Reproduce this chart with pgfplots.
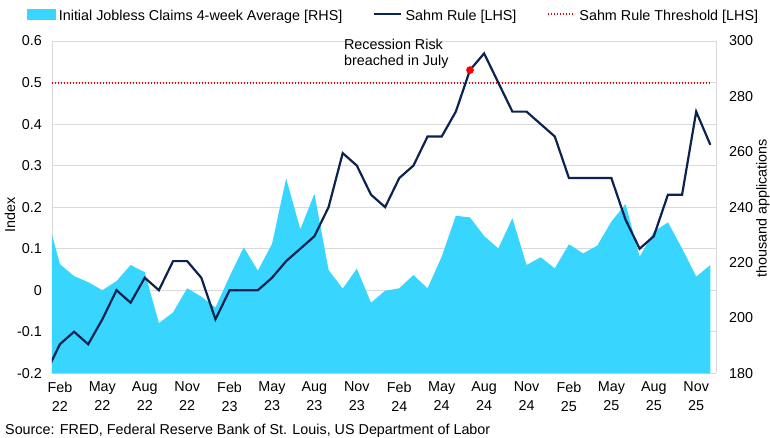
\documentclass[border=0pt]{standalone}
\usepackage{pgfplots}
\pgfplotsset{compat=1.18}
\usepackage{pgfplotstable}
\usepackage{fontspec}
\setmainfont{Liberation Sans}

\definecolor{claimsblue}{RGB}{56,214,255}
\definecolor{sahmnavy}{RGB}{12,35,82}
\definecolor{gridgray}{RGB}{217,217,217}

\newcommand{\fsz}{\fontsize{14.4}{17}\selectfont}

% month index: 0 = Feb 2022, 3 = May 2022, ..., 45 = Nov 2025 (-1 = Jan 2022)
% sahm: Sahm rule (index points), claims: initial claims 4-week average (thousands)
\pgfplotstableread{
idx sahm claims
-1 -0.20 238.3
0 -0.13 219.4
1 -0.10 215.1
2 -0.13 212.9
3 -0.07 210.0
4 0.00 213.3
5 -0.03 219.1
6 0.03 216.5
7 0.00 198.1
8 0.07 202.0
9 0.07 210.7
10 0.03 207.7
11 -0.07 203.8
12 0.00 215.0
13 0.00 225.5
14 0.00 217.1
15 0.03 226.7
16 0.07 250.4
17 0.10 232.0
18 0.13 244.8
19 0.20 217.3
20 0.33 210.6
21 0.30 217.8
22 0.23 205.5
23 0.20 209.8
24 0.27 210.7
25 0.30 215.5
26 0.37 210.7
27 0.37 222.1
28 0.43 236.9
29 0.53 236.3
30 0.57 229.6
31 0.50 225.1
32 0.43 236.0
33 0.43 219.1
34 0.40 221.9
35 0.37 217.9
36 0.27 226.6
37 0.27 223.3
38 0.27 226.1
39 0.27 234.8
40 0.17 241.1
41 0.10 222.1
42 0.13 231.1
43 0.23 234.5
44 0.23 225.1
45 0.43 214.9
46 0.35 219.1
}\monthly

\pgfplotsset{
  frame/.style={
    at={(0,0)}, anchor=south west,
    scale only axis, width=664bp, height=332.3bp,
    xmin=-0.56, xmax=46.40,
  },
}

\begin{document}
\begin{tikzpicture}
\path[use as bounding box] (-52bp,-64.7bp) rectangle (718bp,373.3bp);

% left scale: grid, index ticks and month labels
\begin{axis}[
  frame,
  ymin=-0.2, ymax=0.6,
  axis x line*=bottom, axis y line*=left,
  axis line style={-},
  x axis line style={draw=none},
  y axis line style={draw=gridgray, line width=0.8bp},
  major tick length=0pt, tick style={draw=none},
  ytick={-0.2,-0.1,0,0.1,0.2,0.3,0.4,0.5,0.6},
  yticklabels={-0.2,-0.1,0,0.1,0.2,0.3,0.4,0.5,0.6},
  ymajorgrids, grid style={draw=gridgray, line width=0.8bp},
  xtick={0,3,...,45},
  xticklabels={{Feb\\22},{May\\22},{Aug\\22},{Nov\\22},
               {Feb\\23},{May\\23},{Aug\\23},{Nov\\23},
               {Feb\\24},{May\\24},{Aug\\24},{Nov\\24},
               {Feb\\25},{May\\25},{Aug\\25},{Nov\\25}},
  xticklabel style={align=center, inner sep=0pt, yshift=-8.5bp,
                    font=\fontsize{14.4}{19}\selectfont},
  yticklabel style={inner sep=0pt, xshift=-10bp, font=\fsz},
  ylabel={Index},
  ylabel style={at={(axis description cs:-0.0633,0.476)}, anchor=center,
                inner sep=0pt, font=\fsz},
]
\end{axis}

% right scale: initial jobless claims area
\begin{axis}[
  frame,
  ymin=180, ymax=300,
  axis x line=none, axis y line*=right,
  axis line style={-},
  y axis line style={draw=gridgray, line width=0.8bp},
  major tick length=0pt, ytick style={draw=none},
  ytick={180,200,220,240,260,280,300},
  yticklabels={180,200,220,240,260,280,300},
  yticklabel style={inner sep=0pt, xshift=13bp, font=\fsz},
  ylabel={thousand applications},
  ylabel style={at={(axis description cs:1.0708,0.496)}, anchor=center,
                inner sep=0pt, font=\fsz},
]
\addplot[draw=none, fill=claimsblue] table[x=idx, y=claims] {\monthly} \closedcycle;
\end{axis}

% left scale again: Sahm rule, threshold and legend
\begin{axis}[
  frame,
  ymin=-0.2, ymax=0.6,
  hide axis, clip mode=individual,
  legend columns=3,
  legend cell align=left,
  legend style={at={(-0.0377,1.0773)}, anchor=west, draw=none, fill=none,
    inner sep=0pt, outer sep=0pt, font=\fsz,
    nodes={inner sep=0pt},
    /tikz/every odd column/.append style={column sep=3.5bp},
    /tikz/every even column/.append style={column sep=30.5bp}},
]
\addlegendimage{legend image code/.code={\fill[claimsblue] (0bp,-3.7bp) rectangle (28bp,6.3bp);}}
\addlegendentry{Initial Jobless Claims 4-week Average [RHS]}
\addlegendimage{legend image code/.code={\draw[sahmnavy, line width=2.2bp] (0bp,1.3bp) -- (27bp,1.3bp);}}
\addlegendentry{Sahm Rule [LHS]}
\addlegendimage{legend image code/.code={\draw[red, line width=2bp, dash pattern=on 1.5bp off 1.5bp] (0bp,1.3bp) -- (27bp,1.3bp);}}
\addlegendentry{Sahm Rule Threshold [LHS]}

\addplot[forget plot, red, line width=2bp, dash pattern=on 1.5bp off 1.5bp]
  coordinates {(-1,0.5) (46,0.5)};
\addplot[forget plot, sahmnavy, line width=2.2bp]
  table[x=idx, y=sahm] {\monthly};
\addplot[forget plot, only marks, mark=*, mark size=3.6bp, red]
  coordinates {(29,0.53)};

\node[anchor=north west, align=left, inner sep=0pt,
      font=\fontsize{14.4}{15.3}\selectfont]
  at (axis cs:20.08,0.604) {Recession Risk\\breached in July};
\end{axis}

\node[anchor=base west, inner sep=0pt, font=\fsz] at (-47bp,-60.7bp)
  {Source: FRED, Federal Reserve Bank of St. Louis, US Department of Labor};
\end{tikzpicture}
\end{document}
